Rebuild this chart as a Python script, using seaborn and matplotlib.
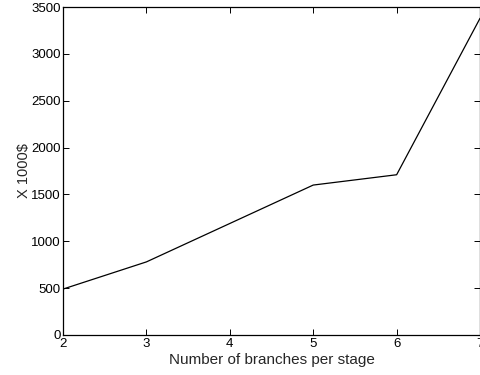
import matplotlib
matplotlib.use("Agg")
import matplotlib.pyplot as plt
import seaborn as sns
import pandas as pd

branches = [2, 3, 4, 5, 6, 7]
cost = [490, 780, 1190, 1600, 1710, 3380]
x_ticks = [2, 3, 4, 5, 6, 7]
y_ticks = [0, 500, 1000, 1500, 2000, 2500, 3000, 3500]

sns.set_style("white")
plt.rcParams['font.family'] = ['Liberation Sans', 'DejaVu Sans']

df = pd.DataFrame({"branches": branches, "cost": cost})

fig = plt.figure(figsize=(4.81, 3.75), dpi=100)
ax = fig.add_axes([0.131, 0.1067, 0.867, 0.8746])
sns.lineplot(data=df, x="branches", y="cost", ax=ax, color="black", linewidth=0.9)

ax.set_xlim(2, 7)
ax.set_ylim(0, 3500)
ax.set_xticks(x_ticks)
ax.set_yticks(y_ticks)
ax.tick_params(direction="in", length=4, width=0.7, labelsize=9.5, top=True, right=True,
               bottom=True, left=True, colors="black")
ax.tick_params(axis="y", pad=1.5)
ax.tick_params(axis="x", pad=2.5)
for s in ax.spines.values():
    s.set_visible(True)
    s.set_color("black")
    s.set_linewidth(0.9)
ax.set_xlabel("Number of branches per stage", fontsize=11, labelpad=1.5)
ax.set_ylabel("X 1000$", fontsize=10.5, labelpad=0.5)

fig.savefig("out.png", dpi=100)
